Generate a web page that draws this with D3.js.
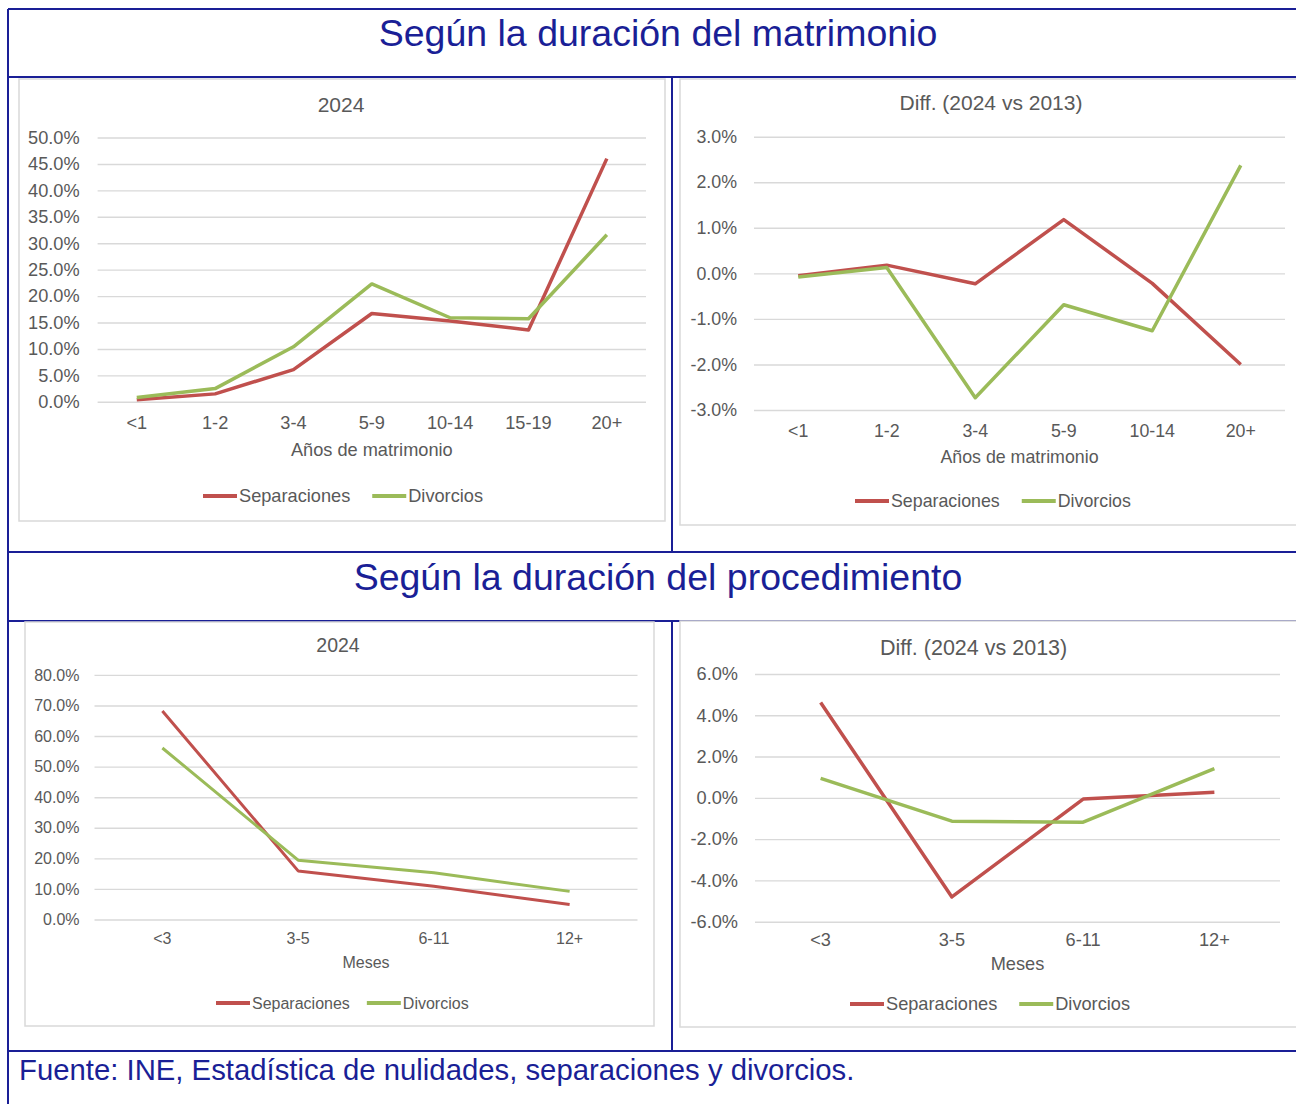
<!DOCTYPE html>
<html>
<head>
<meta charset="utf-8">
<script src="https://cdn.jsdelivr.net/npm/d3@7"></script>
<style>
  body { margin: 0; background: #fff; }
  svg { display: block; font-family: 'Liberation Sans', Arial, sans-serif; }
</style>
</head>
<body>
<div id="main"></div>
<script>
// Data
var aniosCats = ['<1', '1-2', '3-4', '5-9', '10-14', '15-19', '20+'];
var aniosSep2024 = [0.004, 0.015, 0.061, 0.167, 0.153, 0.136, 0.460];
var aniosDiv2024 = [0.008, 0.025, 0.104, 0.223, 0.159, 0.157, 0.316];
var aniosTicks2024 = [0, 0.05, 0.1, 0.15, 0.2, 0.25, 0.3, 0.35, 0.4, 0.45, 0.5];

var aniosDiffCats = ['<1', '1-2', '3-4', '5-9', '10-14', '20+'];
var aniosSepDiff = [-0.0005, 0.0018, -0.0023, 0.0118, -0.0022, -0.0200];
var aniosDivDiff = [-0.0008, 0.0013, -0.0273, -0.0069, -0.0126, 0.0237];
var aniosTicksDiff = [-0.03, -0.02, -0.01, 0, 0.01, 0.02, 0.03];

var mesesCats = ['<3', '3-5', '6-11', '12+'];
var mesesSep2024 = [0.682, 0.159, 0.109, 0.049];
var mesesDiv2024 = [0.561, 0.194, 0.153, 0.092];
var mesesTicks2024 = [0, 0.1, 0.2, 0.3, 0.4, 0.5, 0.6, 0.7, 0.8];

var mesesSepDiff = [0.0462, -0.0480, -0.0006, 0.0027];
var mesesDivDiff = [0.0094, -0.0113, -0.0118, 0.0142];
var mesesTicksDiff = [-0.06, -0.04, -0.02, 0, 0.02, 0.04, 0.06];

var seriesNames = ['Separaciones', 'Divorcios'];
var seriesColors = ['#c0504d', '#9bbb59'];

var blue = '#1a1f96';
var grey = '#595959';

// percent with a plain hyphen for negatives, like Excel
var pct = d3.format('.1%');
var fmt = (d) => pct(d).replace('\u2212', '-');

var svg = d3.select('#main').append('svg').attr('width', 1296).attr('height', 1104);

// Blue table lines
var tableLines = [
  [8, 9, 1296, 9],
  [8, 9, 8, 1104],
  [8, 77, 1296, 77],
  [8, 552, 1296, 552],
  [8, 621, 1296, 621],
  [8, 1051, 1296, 1051],
  [672, 77, 672, 552],
  [672, 621, 672, 1051]
];
svg.append('g')
  .selectAll('line')
  .data(tableLines)
  .enter()
  .append('line')
  .attr('x1', (d) => d[0]).attr('y1', (d) => d[1])
  .attr('x2', (d) => d[2]).attr('y2', (d) => d[3])
  .attr('stroke', blue)
  .attr('stroke-width', 2);

// Section titles and source
svg.append('text').attr('x', 658).attr('y', 33).attr('dy', '0.35em')
  .attr('text-anchor', 'middle').attr('fill', blue).attr('font-size', 37.5)
  .text('Según la duración del matrimonio');
svg.append('text').attr('x', 658).attr('y', 577).attr('dy', '0.35em')
  .attr('text-anchor', 'middle').attr('fill', blue).attr('font-size', 37.5)
  .text('Según la duración del procedimiento');
svg.append('text').attr('x', 19).attr('y', 1070).attr('dy', '0.35em')
  .attr('fill', blue).attr('font-size', 29.3)
  .text('Fuente: INE, Estadística de nulidades, separaciones y divorcios.');

function drawChart(c) {
  var g = svg.append('g');

  // chart frame
  g.append('rect')
    .attr('x', c.frame[0]).attr('y', c.frame[1])
    .attr('width', c.frame[2]).attr('height', c.frame[3])
    .attr('fill', '#fff')
    .attr('stroke', '#d9d9d9')
    .attr('stroke-width', 1.5);

  var x = d3.scaleBand().domain(c.cats).range([c.left, c.right]);
  var y = d3.scaleLinear().domain(d3.extent(c.ticks)).range([c.bottom, c.top]);

  // y axis with gridlines
  var yAxis = g.append('g')
    .attr('transform', 'translate(' + c.left + ',0)')
    .call(d3.axisLeft(y)
      .tickValues(c.ticks)
      .tickFormat(fmt)
      .tickSize(-(c.right - c.left))
      .tickPadding(c.pad));
  yAxis.select('.domain').remove();
  yAxis.selectAll('.tick line').attr('stroke', '#d9d9d9').attr('stroke-width', 1.4);
  yAxis.selectAll('.tick text')
    .attr('fill', grey)
    .attr('font-size', c.fs)
    .attr('font-family', 'Liberation Sans, Arial, sans-serif');

  // category axis
  var xAxis = g.append('g')
    .attr('transform', 'translate(0,' + c.catY + ')')
    .call(d3.axisBottom(x).tickSize(0).tickPadding(0));
  xAxis.select('.domain').remove();
  xAxis.selectAll('.tick text')
    .attr('y', 0)
    .attr('dy', '0.35em')
    .attr('fill', grey)
    .attr('font-size', c.fs)
    .attr('font-family', 'Liberation Sans, Arial, sans-serif');

  // titles
  g.append('text').attr('x', c.titleX).attr('y', c.titleY).attr('dy', '0.35em')
    .attr('text-anchor', 'middle').attr('fill', grey).attr('font-size', c.tfs)
    .text(c.title);
  g.append('text').attr('x', (c.left + c.right) / 2).attr('y', c.axisY).attr('dy', '0.35em')
    .attr('text-anchor', 'middle').attr('fill', grey).attr('font-size', c.fs)
    .text(c.axisTitle);

  // lines
  var line = d3.line()
    .x((d, i) => x(c.cats[i]) + x.bandwidth() / 2)
    .y((d) => y(d));
  c.series.forEach(function (s, i) {
    g.append('path')
      .datum(s)
      .attr('fill', 'none')
      .attr('stroke', seriesColors[i])
      .attr('stroke-width', c.lw)
      .attr('stroke-linejoin', 'round')
      .attr('d', line);
  });

  // legend
  var lx = c.legendX;
  seriesNames.forEach(function (name, i) {
    g.append('line')
      .attr('x1', lx).attr('x2', lx + 34)
      .attr('y1', c.legendY).attr('y2', c.legendY)
      .attr('stroke', seriesColors[i])
      .attr('stroke-width', 4);
    var t = g.append('text')
      .attr('x', lx + 36).attr('y', c.legendY).attr('dy', '0.35em')
      .attr('fill', grey).attr('font-size', c.fs)
      .text(name);
    lx += 36 + t.node().getComputedTextLength() + c.gap;
  });
}

drawChart({
  frame: [19, 79, 646, 442], left: 97.6, right: 646, top: 137.5, bottom: 401.8,
  cats: aniosCats, ticks: aniosTicks2024, series: [aniosSep2024, aniosDiv2024],
  title: '2024', titleX: 341, titleY: 105, catY: 423, axisY: 450,
  axisTitle: 'Años de matrimonio', legendX: 203, legendY: 496,
  fs: 18.2, tfs: 21, pad: 18, lw: 3.5, gap: 22
});

drawChart({
  frame: [680, 79, 630, 446], left: 754, right: 1285, top: 136.7, bottom: 410,
  cats: aniosDiffCats, ticks: aniosTicksDiff, series: [aniosSepDiff, aniosDivDiff],
  title: 'Diff. (2024 vs 2013)', titleX: 991, titleY: 103, catY: 431, axisY: 457,
  axisTitle: 'Años de matrimonio', legendX: 855, legendY: 501,
  fs: 17.8, tfs: 21, pad: 17, lw: 3.5, gap: 22
});

drawChart({
  frame: [25, 622, 629, 404], left: 94.5, right: 637.5, top: 674.9, bottom: 919.5,
  cats: mesesCats, ticks: mesesTicks2024, series: [mesesSep2024, mesesDiv2024],
  title: '2024', titleX: 338, titleY: 645, catY: 938.6, axisY: 962.7,
  axisTitle: 'Meses', legendX: 216, legendY: 1003,
  fs: 16, tfs: 19.5, pad: 15, lw: 3, gap: 17
});

drawChart({
  frame: [680, 621, 630, 406], left: 755, right: 1280, top: 674, bottom: 921.7,
  cats: mesesCats, ticks: mesesTicksDiff, series: [mesesSepDiff, mesesDivDiff],
  title: 'Diff. (2024 vs 2013)', titleX: 973.6, titleY: 647, catY: 940, axisY: 963.3,
  axisTitle: 'Meses', legendX: 850, legendY: 1004,
  fs: 18.2, tfs: 21.5, pad: 17, lw: 3.5, gap: 22
});
</script>
</body>
</html>
